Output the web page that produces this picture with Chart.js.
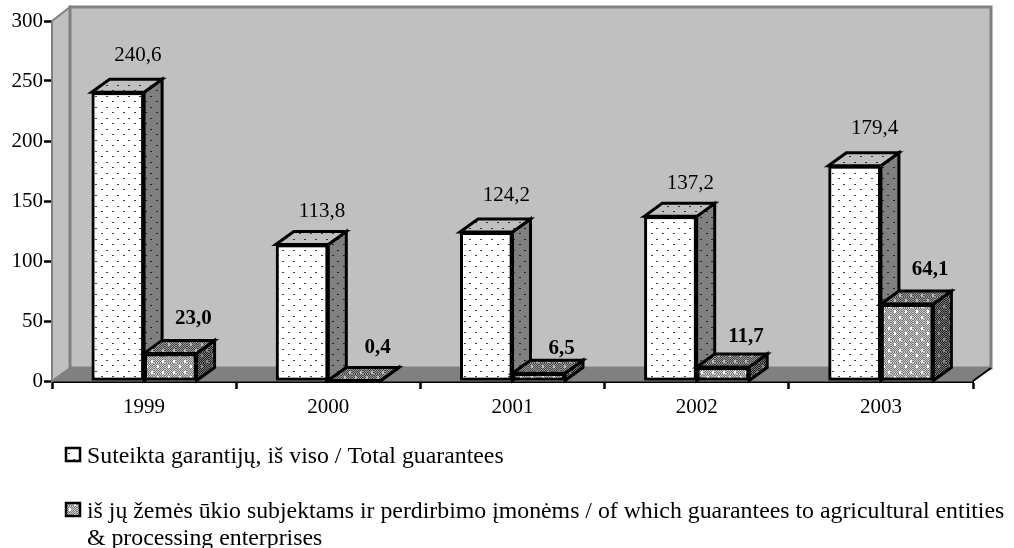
<!DOCTYPE html>
<html>
<head>
<meta charset="utf-8">
<style>
html, body { margin: 0; padding: 0; background: #fff; }
canvas { display: block; }
</style>
<script src="https://cdn.jsdelivr.net/npm/chart.js@4/dist/chart.umd.min.js"></script>
</head>
<body>
<canvas id="mainChart" width="1014" height="548"></canvas>
<script>
// data
const years = ['1999', '2000', '2001', '2002', '2003'];
const totalGuarantees = [240.6, 113.8, 124.2, 137.2, 179.4];
const agriGuarantees = [23.0, 0.4, 6.5, 11.7, 64.1];
const totalLegend = ['Suteikta garantijų, iš viso / Total guarantees'];
const agriLegend = [
    'iš jų žemės ūkio subjektams ir perdirbimo įmonėms / of which guarantees to agricultural entities',
    '& processing enterprises'
];

const serif = '"Liberation Serif", "Times New Roman", serif';
const depthX = 18;
const depthY = 13;
// 数值标签离柱顶的高度，原图是手工摆放的
const labelLift = [[37, 33, 36, 33, 37], [35, 33, 25, 30, 35]];
const labelShift = [20, 23];

// 点状填充
function dotPattern(bg, dot) {
    const c = document.createElement('canvas');
    c.width = 11;
    c.height = 11;
    const g = c.getContext('2d');
    g.fillStyle = bg;
    g.fillRect(0, 0, 11, 11);
    g.fillStyle = dot;
    g.fillRect(2, 2, 2, 1);
    g.fillRect(7, 8, 2, 1);
    return g.createPattern(c, 'repeat');
}

// 棋盘格填充
function ditherPattern(dark, light, spot) {
    const c = document.createElement('canvas');
    c.width = 11;
    c.height = 11;
    const g = c.getContext('2d');
    for (let y = 0; y < 11; y++) {
        for (let x = 0; x < 11; x++) {
            g.fillStyle = (x + y) % 2 ? dark : light;
            g.fillRect(x, y, 1, 1);
        }
    }
    g.fillStyle = spot;
    g.fillRect(3, 2, 2, 3);
    g.fillRect(8, 8, 2, 3);
    return g.createPattern(c, 'repeat');
}

const faces = [
    { front: dotPattern('#ffffff', '#444444'), side: dotPattern('#808080', '#222222'), top: dotPattern('#c0c0c0', '#333333') },
    { front: ditherPattern('#777777', '#cccccc', '#ffffff'), side: ditherPattern('#222222', '#777777', '#888888'), top: ditherPattern('#444444', '#999999', '#bbbbbb') }
];

function polygon(ctx, pts, fill, stroke, lineWidth) {
    ctx.beginPath();
    pts.forEach((p, i) => i ? ctx.lineTo(p[0], p[1]) : ctx.moveTo(p[0], p[1]));
    ctx.closePath();
    if (fill) {
        ctx.fillStyle = fill;
        ctx.fill();
    }
    if (stroke) {
        ctx.strokeStyle = stroke;
        ctx.lineWidth = lineWidth;
        ctx.lineJoin = 'miter';
        ctx.stroke();
    }
}

// 背景墙和地面
const wallsPlugin = {
    id: 'walls',
    beforeDatasetsDraw(chart) {
        const ctx = chart.ctx;
        const a = chart.chartArea;
        ctx.save();
        polygon(ctx, [[a.left, a.top], [a.left + depthX, a.top - 14], [a.left + depthX, a.bottom - depthY], [a.left, a.bottom]], '#c0c0c0', '#808080', 2);
        polygon(ctx, [[a.left + depthX, a.top - 14], [a.right + depthX, a.top - 14], [a.right + depthX, a.bottom - depthY], [a.left + depthX, a.bottom - depthY]], '#c0c0c0', '#808080', 3);
        polygon(ctx, [[a.left, a.bottom], [a.left + depthX, a.bottom - depthY], [a.right + depthX, a.bottom - depthY], [a.right, a.bottom]], '#808080', '#808080', 1);
        ctx.strokeStyle = '#000';
        ctx.lineWidth = 2;
        ctx.beginPath();
        ctx.moveTo(a.right, a.bottom);
        ctx.lineTo(a.right + depthX, a.bottom - depthY);
        ctx.stroke();
        ctx.restore();
    }
};

// 柱子的正面、侧面、顶面和数值，按系列顺序重画，后面的系列盖住前面的侧面
const boxPlugin = {
    id: 'box3d',
    afterDatasetsDraw(chart) {
        const ctx = chart.ctx;
        ctx.save();
        chart.data.datasets.forEach((ds, d) => {
            const f = faces[d];
            chart.getDatasetMeta(d).data.forEach((bar, i) => {
                const l = bar.x - bar.width / 2;
                const r = bar.x + bar.width / 2;
                const t = bar.y;
                const b = bar.base;
                bar.draw(ctx);
                polygon(ctx, [[r, t], [r + depthX, t - depthY], [r + depthX, b - depthY], [r, b]], f.side, '#000', 3);
                polygon(ctx, [[l, t], [l + depthX, t - depthY], [r + depthX, t - depthY], [r, t]], f.top, '#000', 3);
                ctx.fillStyle = '#000';
                ctx.font = (d ? 'bold ' : '') + '21px ' + serif;
                ctx.textAlign = 'center';
                ctx.textBaseline = 'middle';
                ctx.fillText(ds.data[i].toFixed(1).replace('.', ','), bar.x + labelShift[d], t - labelLift[d][i]);
            });
        });
        ctx.restore();
    }
};

// 图例
const legendPlugin = {
    id: 'sideLegend',
    afterDraw(chart) {
        const ctx = chart.ctx;
        ctx.save();
        polygon(ctx, [[66, 448], [80, 448], [80, 461], [66, 461]], faces[0].front, '#000', 2.5);
        polygon(ctx, [[66, 503], [80, 503], [80, 516], [66, 516]], faces[1].front, '#000', 2.5);
        ctx.fillStyle = '#000';
        ctx.font = '23.8px ' + serif;
        ctx.textAlign = 'left';
        ctx.textBaseline = 'alphabetic';
        ctx.fillText(totalLegend[0], 87, 463);
        ctx.fillText(agriLegend[0], 87, 518);
        ctx.fillText(agriLegend[1], 87, 545);
        ctx.restore();
    }
};

new Chart(document.getElementById('mainChart'), {
    type: 'bar',
    data: {
        labels: years,
        datasets: [
            { label: totalLegend[0], data: totalGuarantees, backgroundColor: faces[0].front },
            { label: agriLegend.join(' '), data: agriGuarantees, backgroundColor: faces[1].front }
        ]
    },
    options: {
        responsive: false,
        animation: false,
        devicePixelRatio: 1,
        layout: { padding: { left: 0, right: 41, top: 21, bottom: 131 } },
        datasets: {
            bar: {
                barPercentage: 1,
                categoryPercentage: 0.57,
                borderColor: '#000',
                borderWidth: 3,
                borderSkipped: false,
                clip: false
            }
        },
        plugins: {
            legend: { display: false },
            tooltip: { enabled: false }
        },
        scales: {
            x: {
                afterFit(scale) { scale.height = 36; },
                grid: { drawOnChartArea: false, drawTicks: true, tickLength: 8, tickColor: '#000', tickWidth: 2.5 },
                border: { color: '#000', width: 3 },
                ticks: { color: '#000', font: { family: serif, size: 21 }, padding: 6, maxRotation: 0 }
            },
            y: {
                min: 0,
                max: 300,
                afterFit(scale) { scale.width = 52; },
                grid: { drawOnChartArea: false, drawTicks: true, tickLength: 8, tickColor: '#000', tickWidth: 2.5 },
                border: { color: '#000', width: 3 },
                ticks: { stepSize: 50, color: '#000', font: { family: serif, size: 21 }, padding: 1 }
            }
        }
    },
    plugins: [wallsPlugin, boxPlugin, legendPlugin]
});
</script>
</body>
</html>
